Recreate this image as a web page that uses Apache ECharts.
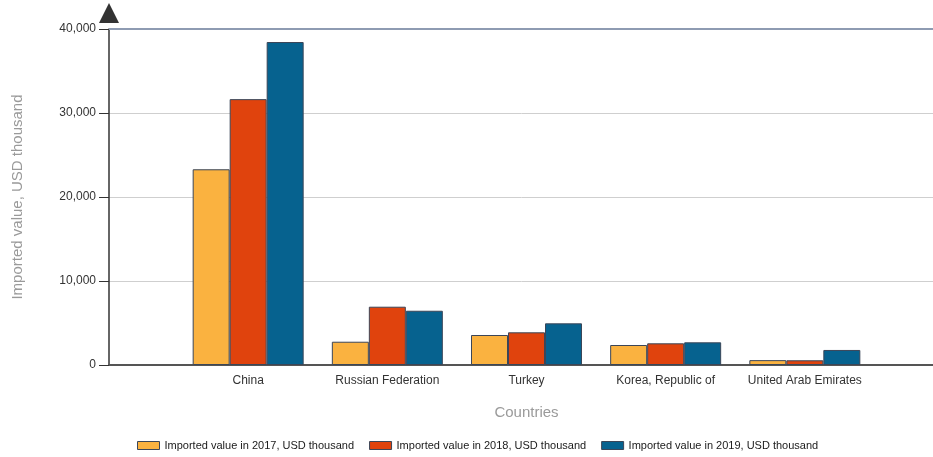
<!DOCTYPE html>
<html>
<head>
<meta charset="utf-8">
<script src="https://cdn.jsdelivr.net/npm/echarts@6/dist/echarts.min.js"></script>
<style>
html,body{margin:0;padding:0;background:#fff;}
#chart{width:933px;height:457px;}
</style>
</head>
<body>
<div id="chart"></div>
<script>
const categories = ['', 'China', 'Russian Federation', 'Turkey', 'Korea, Republic of', 'United Arab Emirates', ''];
const seriesNames = ['Imported value in 2017, USD thousand', 'Imported value in 2018, USD thousand', 'Imported value in 2019, USD thousand'];
const values2017 = [null, 23300, 2770, 3570, 2380, 580, null];
const values2018 = [null, 31650, 6940, 3890, 2580, 560, null];
const values2019 = [null, 38450, 6460, 4960, 2700, 1790, null];
const yTicks = [0, 10000, 20000, 30000, 40000];
const colors = ['#FAB240', '#E0430D', '#06628F'];

const chart = echarts.init(document.getElementById('chart'), null, {renderer: 'canvas'});
const mk = (name, data, color) => ({
  name, type: 'bar', data, barWidth: 37, barGap: '0%',
  itemStyle: {color, borderColor: '#3b4658', borderWidth: 1},
  emphasis: {disabled: true}
});
chart.setOption({
  animation: false,
  textStyle: {fontFamily: 'Liberation Sans, Arial, sans-serif'},
  grid: {left: 109, top: 29, width: 835, height: 336, outerBoundsMode: 'none', containLabel: false},
  legend: {
    bottom: 1, left: 132, itemWidth: 22, itemHeight: 8, itemGap: 15,
    icon: 'rect',
    textStyle: {fontSize: 11, color: '#1a1a1a'},
    itemStyle: {borderColor: '#3b4658', borderWidth: 1},
    data: seriesNames
  },
  xAxis: {
    type: 'category', data: categories, boundaryGap: false,
    name: 'Countries', nameLocation: 'middle', nameGap: 40,
    nameTextStyle: {color: '#9a9a9a', fontSize: 15},
    axisLine: {lineStyle: {color: '#555', width: 2}},
    axisTick: {show: false},
    axisLabel: {color: '#333', fontSize: 12, margin: 10, interval: 0},
    splitLine: {show: false}
  },
  yAxis: {
    type: 'value', min: yTicks[0], max: yTicks[yTicks.length - 1], interval: 10000,
    name: 'Imported value, USD thousand', nameLocation: 'middle', nameGap: 84,
    nameTextStyle: {color: '#9a9a9a', fontSize: 15},
    axisLine: {show: true, lineStyle: {color: '#333', width: 1.5},
      symbol: ['none', 'triangle'], symbolSize: [20, 20], symbolOffset: [0, 16]},
    axisTick: {show: true, length: 10, lineStyle: {color: '#333'}},
    axisLabel: {color: '#333', fontSize: 12, margin: 13,
      formatter: v => v.toLocaleString('en-US')},
    splitLine: {lineStyle: {color: '#cfcfcf', width: 1}}
  },
  series: [
    mk(seriesNames[0], values2017, colors[0]),
    mk(seriesNames[1], values2018, colors[1]),
    mk(seriesNames[2], values2019, colors[2]),
    {
      type: 'line', data: [], silent: true,
      markLine: {silent: true, symbol: 'none', label: {show: false},
        lineStyle: {color: '#8e9bb2', width: 2, type: 'solid'},
        data: [{yAxis: yTicks[yTicks.length - 1]}]}
    }
  ]
});
</script>
</body>
</html>
